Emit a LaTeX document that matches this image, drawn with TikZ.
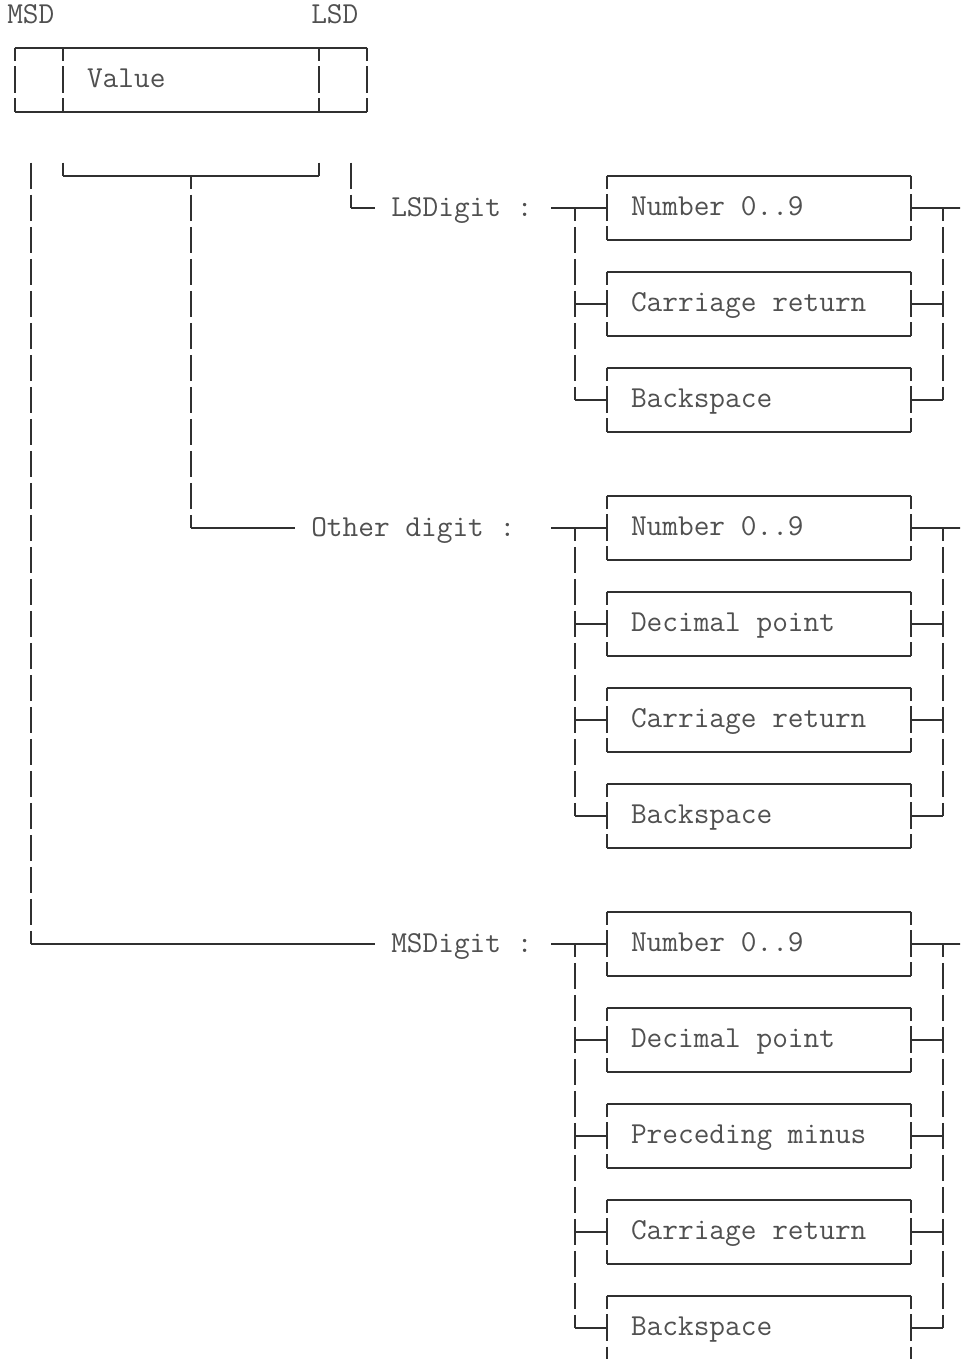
\documentclass[tikz,border=0pt]{standalone}
\usepackage{fontspec}
\definecolor{ink}{HTML}{303030}
\definecolor{txtc}{HTML}{505050}
\newcommand\fw[2]{\makebox[#1][l]{#2}}
\tikzset{
  x=12pt, y=-24pt,
  hl/.style={draw=ink, line width=1.4pt, line cap=square},
  vl/.style={draw=ink, line width=1.4pt, dash pattern=on 19.875pt off 4.125pt, dash phase=9.9375pt},
  vltop/.style={draw=ink, line width=1.4pt, dash pattern=on 19.875pt off 4.125pt, dash phase=0pt},
  mono/.style={font=\ttfamily\fontsize{22.857}{24}\selectfont, text=txtc},
  lbl/.style={mono, anchor=base west, inner sep=0pt},
  cell/.style={mono, inner xsep=18pt, inner ysep=0pt, minimum height=48pt,
    text height=15pt, text depth=3.75pt},
  item/.style={cell, minimum width=228pt},
}
\newcommand\outline[1]{%
  \draw[hl] (#1.north west) -- (#1.north east);
  \draw[hl] (#1.south west) -- (#1.south east);
  \draw[vl] (#1.north west) -- (#1.south west);
  \draw[vl] (#1.north east) -- (#1.south east);}
\begin{document}
\begin{tikzpicture}
\path[use as bounding box, clip] (-0.9375,-0.5) rectangle (59.0625,41.96875);

% top labels
\node[lbl] (msdl) at (-0.5,0.25) {MSD};
\node[lbl] (lsdl) at (18.5,0.25) {LSD};

% value register
\node[cell, minimum width=36pt, inner xsep=0pt] (msd) at (1.5,2) {};
\node[cell, minimum width=192pt] (val) at (11,2) {\fw{156pt}{Value}};
\node[cell, minimum width=36pt, inner xsep=0pt] (lsd) at (20.5,2) {};
\draw[hl] (msd.north west) -- (lsd.north east);
\draw[hl] (msd.south west) -- (lsd.south east);
\draw[vl] (msd.north west) -- (msd.south west);
\draw[vl] (val.north west) -- (val.south west);
\draw[vl] (lsd.north west) -- (lsd.south west);
\draw[vl] (lsd.north east) -- (lsd.south east);

% group labels
\node[lbl] (lsdig) at (23.5,6.25) {LSDigit :};
\node[lbl] (oth) at (18.5,16.25) {Other digit :};
\node[lbl] (msdig) at (23.5,29.25) {MSDigit :};

% items
\node[item] (ls1) at (46.5,6) {\fw{192pt}{Number 0..9}};
\node[item] (ls2) at (46.5,9) {\fw{192pt}{Carriage return}};
\node[item] (ls3) at (46.5,12) {\fw{192pt}{Backspace}};
\node[item] (od1) at (46.5,16) {\fw{192pt}{Number 0..9}};
\node[item] (od2) at (46.5,19) {\fw{192pt}{Decimal point}};
\node[item] (od3) at (46.5,22) {\fw{192pt}{Carriage return}};
\node[item] (od4) at (46.5,25) {\fw{192pt}{Backspace}};
\node[item] (ms1) at (46.5,29) {\fw{192pt}{Number 0..9}};
\node[item] (ms2) at (46.5,32) {\fw{192pt}{Decimal point}};
\node[item] (ms3) at (46.5,35) {\fw{192pt}{Preceding minus}};
\node[item] (ms4) at (46.5,38) {\fw{192pt}{Carriage return}};
\node[item] (ms5) at (46.5,41) {\fw{192pt}{Backspace}};
\foreach \n in {ls1,ls2,ls3,od1,od2,od3,od4,ms1,ms2,ms3,ms4,ms5} {\outline{\n}}

% legs from the register
\coordinate (mleg) at (1,4.5859375);
\coordinate (mcorner) at (1,29);
\coordinate (mend) at (22.5,29);
\draw[vltop] (mleg) -- (mcorner);
\draw[hl] (mcorner) -- (mend);

\coordinate (bl) at (3,4.5859375);
\coordinate (br) at (19,4.5859375);
\coordinate (bm) at (11,5);
\draw[vltop] (bl) -- (bl |- bm);
\draw[hl] (bl |- bm) -- (br |- bm);
\draw[vltop] (br) -- (br |- bm);
\coordinate (ocorner) at (11,16);
\coordinate (oend) at (17.5,16);
\draw[vl] (bm) -- (ocorner);
\draw[hl] (ocorner) -- (oend);

\coordinate (lleg) at (21,4.5859375);
\coordinate (lcorner) at (21,6);
\coordinate (lend) at (22.5,6);
\draw[vltop] (lleg) -- (lcorner);
\draw[hl] (lcorner) -- (lend);

% LSDigit group
\coordinate (lsin) at (33.5,6);
\coordinate (lsL) at (35,6);
\coordinate (lsR) at (58,6);
\coordinate (lsout) at (59.5,6);
\draw[hl] (lsin) -- (ls1.west);
\draw[hl] (ls1.east) -- (lsout);
\draw[vl] (lsL) -- (lsL |- ls3.west);
\draw[vl] (lsR) -- (lsR |- ls3.east);
\foreach \n in {ls2,ls3} {
  \draw[hl] (lsL |- \n.west) -- (\n.west);
  \draw[hl] (\n.east) -- (lsR |- \n.east);}

% Other digit group
\coordinate (odin) at (33.5,16);
\coordinate (odL) at (35,16);
\coordinate (odR) at (58,16);
\coordinate (odout) at (59.5,16);
\draw[hl] (odin) -- (od1.west);
\draw[hl] (od1.east) -- (odout);
\draw[vl] (odL) -- (odL |- od4.west);
\draw[vl] (odR) -- (odR |- od4.east);
\foreach \n in {od2,od3,od4} {
  \draw[hl] (odL |- \n.west) -- (\n.west);
  \draw[hl] (\n.east) -- (odR |- \n.east);}

% MSDigit group
\coordinate (msin) at (33.5,29);
\coordinate (msL) at (35,29);
\coordinate (msR) at (58,29);
\coordinate (msout) at (59.5,29);
\draw[hl] (msin) -- (ms1.west);
\draw[hl] (ms1.east) -- (msout);
\draw[vl] (msL) -- (msL |- ms5.west);
\draw[vl] (msR) -- (msR |- ms5.east);
\foreach \n in {ms2,ms3,ms4,ms5} {
  \draw[hl] (msL |- \n.west) -- (\n.west);
  \draw[hl] (\n.east) -- (msR |- \n.east);}
\end{tikzpicture}
\end{document}
